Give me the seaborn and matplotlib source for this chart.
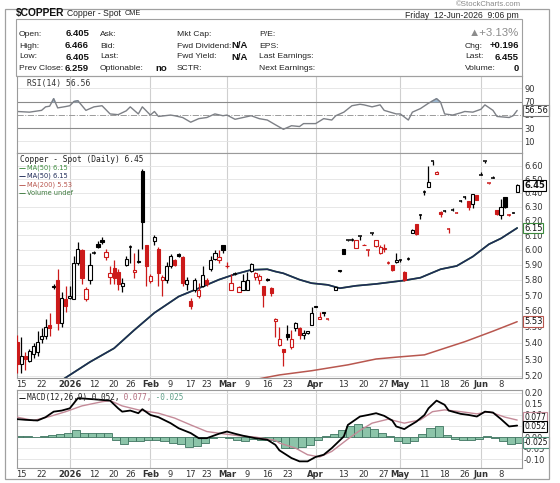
import numpy as np
import pandas as pd
import seaborn as sns
import matplotlib.pyplot as plt
from matplotlib.patches import Rectangle
from matplotlib.ticker import FixedLocator, NullLocator, FuncFormatter

sns.set_theme(style="white")
plt.rcParams["font.family"] = ["DejaVu Sans"]

W, H = 560, 483
RED = "#cc1a1a"
NAVY = "#1f2b57"
MA_GREEN = "#3d8b3d"
MA200_RED = "#b8574f"
GRID = "#e3e3e3"
MONTHLINE = "#cfcfcf"
HEAD_FONT = ["Liberation Sans", "DejaVu Sans"]

# ---- data -------------------------------------------------------------
holidays = ["2025-12-25", "2026-01-01", "2026-01-19", "2026-02-16",
            "2026-04-03", "2026-05-25"]
dates = pd.bdate_range("2025-12-12", "2026-06-12", freq="C", holidays=holidays)
nan = np.nan

opens = [5.405, 5.27, 5.322, 5.29, 5.332, 5.342, 5.425, 5.444, 5.51, 5.75,
         5.80, 5.52, 5.672, 5.682, 5.672, 5.908, 5.998, 5.672, 5.80, 5.978,
         6.04, 6.07, 5.948, 5.818, 5.878, 5.848, 5.76, 5.898, 6.02, 5.853,
         5.918, 6.562, 6.03, 5.794, 6.06, 6.003, 5.80, 5.80, 5.888, 5.928,
         5.968, 5.948, 5.77, 5.662, 5.73, 5.692, 5.76, 5.80, 5.868, 5.938,
         5.928, 6.03, 5.888, 5.73, 5.838, 5.72, 5.73, 5.73, 5.858, 5.818,
         5.80, 5.76, 5.805, 5.745, 5.534, 5.388, 5.362, 5.452, 5.371, 5.49,
         5.49, 5.45, 5.462, 5.51, 5.622, 5.545, 5.594, 5.545, nan, 5.735,
         5.858, 6.003, 6.067, 6.07, 6.01, 6.096, 6.03, 5.998, 6.112, 6.027,
         5.978, 6.008, 5.913, 5.898, 5.918, 5.933, 5.848, 5.938, 6.116, 6.178,
         6.243, 6.408, 6.445, 6.631, 6.542, 6.266, 6.27, 6.145, 6.28, 6.259,
         6.34, 6.367, 6.34, 6.318, 6.385, 6.532, 6.638, 6.47, 6.508, 6.28,
         6.243, 6.367, 6.24, 6.259, 6.405]
highs = [5.445, 5.435, 5.342, 5.362, 5.397, 5.472, 5.49, 5.546, 5.585, 5.77,
         5.868, 5.72, 5.76, 5.76, 5.958, 6.05, 6.008, 5.75, 5.978, 5.99,
         6.06, 6.09, 6.008, 5.888, 5.928, 5.868, 5.808, 5.958, 6.03, 5.978,
         6.008, 6.578, 6.03, 5.838, 6.10, 6.02, 5.828, 5.918, 5.968, 5.938,
         5.978, 5.958, 5.818, 5.682, 5.808, 5.78, 5.888, 5.808, 5.958, 5.998,
         5.998, 6.03, 5.918, 5.838, 5.848, 5.76, 5.838, 5.848, 5.908, 5.853,
         5.838, 5.76, 5.81, 5.75, 5.554, 5.50, 5.362, 5.51, 5.48, 5.53,
         5.50, 5.48, 5.472, 5.622, 5.632, 5.594, 5.594, 5.55, nan, 5.75,
         5.863, 6.003, 6.07, 6.08, 6.067, 6.097, 6.04, 5.998, 6.117, 6.07,
         6.03, 6.04, 5.923, 5.898, 5.978, 5.938, 5.858, 5.948, 6.14, 6.178,
         6.25, 6.418, 6.598, 6.638, 6.557, 6.27, 6.28, 6.15, 6.29, 6.262,
         6.345, 6.378, 6.343, 6.394, 6.388, 6.552, 6.638, 6.474, 6.526, 6.28,
         6.357, 6.367, 6.245, 6.262, 6.466]
lows = [5.215, 5.215, 5.235, 5.28, 5.305, 5.322, 5.396, 5.425, 5.444, 5.74,
        5.48, 5.50, 5.594, 5.672, 5.672, 5.898, 5.77, 5.662, 5.77, 5.968,
        6.01, 6.04, 5.928, 5.77, 5.77, 5.73, 5.72, 5.888, 5.908, 5.808,
        5.908, 6.008, 5.76, 5.78, 6.03, 5.76, 5.692, 5.78, 5.878, 5.888,
        5.948, 5.76, 5.73, 5.613, 5.72, 5.682, 5.75, 5.76, 5.858, 5.928,
        5.908, 5.978, 5.878, 5.73, 5.828, 5.72, 5.73, 5.73, 5.848, 5.80,
        5.77, 5.623, 5.79, 5.692, 5.435, 5.38, 5.26, 5.416, 5.362, 5.472,
        5.425, 5.425, 5.453, 5.51, 5.622, 5.545, 5.565, 5.54, nan, 5.73,
        5.853, 5.968, 6.06, 6.06, 6.01, 6.07, 6.03, 5.958, 6.10, 6.02,
        5.973, 5.988, 5.903, 5.858, 5.908, 5.918, 5.79, 5.928, 6.115, 6.10,
        6.215, 6.388, 6.443, 6.606, 6.542, 6.23, 6.26, 6.112, 6.27, 6.255,
        6.335, 6.353, 6.28, 6.292, 6.348, 6.532, 6.617, 6.466, 6.508, 6.24,
        6.21, 6.292, 6.235, 6.255, 6.405]
closes = [5.27, 5.322, 5.298, 5.352, 5.38, 5.405, 5.444, 5.50, 5.49, 5.76,
          5.52, 5.682, 5.632, 5.692, 5.908, 6.008, 5.808, 5.74, 5.898, 5.98,
          6.02, 6.05, 5.988, 5.843, 5.808, 5.77, 5.78, 5.938, 6.02, 5.863,
          5.923, 6.195, 5.888, 5.823, 6.085, 5.843, 5.818, 5.888, 5.958, 5.898,
          5.958, 5.78, 5.80, 5.632, 5.80, 5.73, 5.828, 5.77, 5.928, 5.978,
          5.948, 5.998, 5.893, 5.78, 5.838, 5.755, 5.79, 5.795, 5.903, 5.843,
          5.823, 5.702, 5.795, 5.716, 5.549, 5.425, 5.344, 5.435, 5.42, 5.525,
          5.45, 5.462, 5.472, 5.585, 5.627, 5.56, 5.585, 5.545, nan, 5.75,
          5.863, 5.968, 6.067, 6.07, 6.065, 6.097, 6.035, 5.998, 6.112, 6.07,
          6.02, 6.013, 5.913, 5.865, 5.928, 5.933, 5.795, 5.938, 6.138, 6.11,
          6.243, 6.408, 6.482, 6.633, 6.552, 6.25, 6.27, 6.145, 6.28, 6.259,
          6.34, 6.368, 6.30, 6.39, 6.351, 6.532, 6.638, 6.47, 6.508, 6.25,
          6.296, 6.30, 6.24, 6.259, 6.455]

# moving averages (trading-day number, value)
ma50_day = [7, 11, 18, 24, 29, 34, 40, 45, 50, 54, 58, 62, 64, 66, 70, 73,
            77, 80, 84, 89, 96, 100, 105, 109, 113, 117, 120, 124]
ma50_val = [5.10, 5.175, 5.283, 5.366, 5.478, 5.586, 5.69, 5.744, 5.80, 5.836,
            5.865, 5.869, 5.854, 5.842, 5.80, 5.777, 5.766, 5.744, 5.76, 5.772,
            5.795, 5.813, 5.869, 5.891, 5.954, 6.038, 6.078, 6.15]
ma200_day = [56, 61, 65, 73, 82, 89, 94, 101, 106, 111, 118, 124]
ma200_val = [5.165, 5.188, 5.206, 5.231, 5.266, 5.301, 5.312, 5.326, 5.366,
             5.406, 5.471, 5.53]

rsi_day = [0, 3, 6, 7, 8, 9, 10, 12, 13, 14, 15, 17, 19, 21, 23, 25, 27, 28,
           30, 31, 33, 34, 35, 38, 39, 41, 43, 45, 47, 49, 51, 52, 54, 56, 58,
           60, 62, 64, 66, 68, 70, 71, 74, 76, 78, 79, 81, 83, 85, 86, 88, 90,
           91, 94, 95, 97, 98, 100, 102, 104, 105, 106, 108, 110, 111, 113,
           115, 116, 118, 119, 122, 123, 124]
rsi_val = [55, 54, 56.7, 62, 63, 74.4, 60.4, 62.5, 63.7, 70, 71.3, 56.7, 62,
           63.7, 51.3, 50.2, 56, 62, 51.3, 62, 49.6, 55, 47.5, 49.6, 48.6,
           45.9, 38.8, 44.2, 45.9, 51.3, 48.6, 49.6, 43.2, 45.9, 48.6, 44.2,
           42.1, 35, 28.1, 33.5, 32.3, 36.7, 36.7, 44.2, 42.1, 48.6, 54, 63.7,
           65.9, 65, 62, 65, 56.7, 51.3, 51.3, 42.1, 54, 59.4, 67.5, 74.4, 69,
           51.3, 49.6, 53, 55, 54, 58.3, 65, 56.7, 47.5, 45.9, 48.6, 56.56]

macd_day = [0, 2, 5, 7, 9, 11, 13, 14, 15, 19, 23, 25, 26, 28, 30, 31, 33, 35,
            38, 40, 43, 45, 47, 50, 52, 54, 56, 59, 62, 64, 65, 68, 70, 72, 74,
            76, 78, 81, 82, 85, 87, 89, 91, 93, 94, 96, 97, 99, 101, 102, 104,
            106, 107, 110, 112, 114, 116, 118, 120, 122, 124]
macd_val = [0.081, 0.078, 0.075, 0.09, 0.115, 0.12, 0.13, 0.153, 0.176, 0.171,
            0.165, 0.13, 0.115, 0.12, 0.108, 0.126, 0.10, 0.09, 0.063, 0.04,
            0.018, -0.005, -0.005, 0.015, 0.025, 0.015, 0.006, -0.005, -0.012,
            -0.035, -0.06, -0.095, -0.11, -0.11, -0.09, -0.08, -0.05, 0.003,
            0.055, 0.093, 0.10, 0.108, 0.096, 0.075, 0.048, 0.036, 0.048, 0.07,
            0.10, 0.13, 0.165, 0.146, 0.12, 0.105, 0.10, 0.093, 0.115, 0.111,
            0.081, 0.048, 0.052]
signal_day = [0, 4, 8, 12, 16, 21, 23, 26, 30, 35, 39, 43, 47, 51, 55, 59, 64,
              65, 69, 72, 75, 78, 82, 85, 88, 92, 96, 100, 103, 106, 110, 114,
              117, 121, 124]
signal_val = [0.09, 0.075, 0.093, 0.115, 0.141, 0.16, 0.165, 0.141, 0.123,
              0.108, 0.086, 0.055, 0.025, 0.015, 0.006, 0.0, -0.015, -0.027,
              -0.05, -0.08, -0.09, -0.065, -0.009, 0.03, 0.063, 0.081, 0.063,
              0.078, 0.115, 0.123, 0.115, 0.105, 0.115, 0.09, 0.077]
hist_day = list(range(0, 125, 2))
hist_val = [0.003, 0.003, 0.002, 0.005, 0.01, 0.015, 0.018, 0.03, 0.02, 0.02,
            0.02, 0.018, -0.012, -0.03, -0.02, -0.02, -0.012, -0.012, -0.02,
            -0.025, -0.03, -0.045, -0.04, -0.025, -0.005, 0.0, -0.005, -0.012,
            -0.018, -0.008, -0.015, -0.015, -0.02, -0.05, -0.05, -0.045,
            -0.035, -0.015, 0.005, 0.015, 0.03, 0.05, 0.06, 0.045, 0.035, 0.02,
            0.005, -0.018, -0.028, -0.02, 0.015, 0.04, 0.05, 0.01, -0.01,
            -0.012, -0.012, -0.01, 0.003, -0.002, -0.018, -0.03, -0.025]

date_tick_day = [1, 6, 13, 19, 24, 28, 33, 38, 43, 47, 52, 57, 62, 67, 74, 81,
                 86, 91, 95, 101, 106, 111, 115, 120]
date_tick_lbl = ["15", "22", "2026", "12", "20", "26", "Feb", "9", "17", "23",
                 "Mar", "9", "16", "23", "Apr", "13", "20", "27", "May", "11",
                 "18", "26", "Jun", "8"]
month_day = [13, 33, 52, 74, 95, 115]
price_ticks = [5.2, 5.3, 5.4, 5.5, 5.6, 5.7, 5.8, 5.9, 6.0, 6.1, 6.2, 6.3, 6.4,
               6.5, 6.6]
rsi_ticks = [10, 30, 50, 70, 90]
macd_ticks = [-0.10, -0.05, 0.0, 0.05, 0.10, 0.15, 0.20]

col_labels = [["Open:", "High:", "Low:", "Prev Close:"],
              ["Ask:", "Bid:", "Last:", "Optionable:"],
              ["Mkt Cap:", "Fwd Dividend:", "Fwd Yield:", "SCTR:"],
              ["P/E:", "EPS:", "Last Earnings:", "Next Earnings:"]]
col_values = [["6.405", "6.466", "6.405", "6.259"],
              ["", "", "", "no"],
              ["", "N/A", "N/A", ""]]
right_labels = ["Chg:", "Last:", "Volume:"]
right_values = ["+0.196", "6.455", "0"]

df = pd.DataFrame({"date": dates, "open": opens, "high": highs,
                   "low": lows, "close": closes})
df["day"] = np.arange(len(df))
prev = df["close"].ffill().shift(1).fillna(df["open"])
df["color"] = np.where(df["close"] >= prev, "black", RED)
df["filled"] = df["close"] < df["open"]

# ---- layout -----------------------------------------------------------
fig = plt.figure(figsize=(W / 100, H / 100), dpi=100)
fig.patch.set_facecolor("white")


def box(top, bottom):
    return [17 / W, 1 - bottom / H, 505 / W, (bottom - top) / H]


def ftext(px, py, s, **kw):
    kw.setdefault("va", "center")
    kw.setdefault("family", HEAD_FONT)
    fig.text(px / W, 1 - py / H, s, **kw)


ax_rsi = fig.add_axes(box(76, 153))
ax_px = fig.add_axes(box(153, 378))
ax_macd = fig.add_axes(box(390, 468))

for ax in (ax_rsi, ax_px, ax_macd):
    ax.set_xlim(-0.1, 125.2)
    ax.set_xticks(date_tick_day)
    ax.set_xticklabels(date_tick_lbl)
    ax.yaxis.tick_right()
    ax.tick_params(axis="both", length=0, labelsize=6, colors="#333333",
                   pad=1.5)
    for sp in ax.spines.values():
        sp.set_color("#9a9a9a")
        sp.set_linewidth(0.8)
    for d in month_day:
        ax.axvline(d, color=MONTHLINE, lw=0.8, zorder=0)
    for lbl in ax.get_xticklabels():
        if not lbl.get_text().isdigit() or lbl.get_text() == "2026":
            lbl.set_fontweight("bold")
ax_rsi.tick_params(labelbottom=False)


def value_box(ax, y, s, ec, bold=False, size=6):
    ax.text(1.004, y, s, transform=ax.get_yaxis_transform(), ha="left",
            va="center", fontsize=size, fontweight="bold" if bold else "normal",
            color="#111111", zorder=6, clip_on=False,
            bbox=dict(boxstyle="square,pad=0.1", fc="white", ec=ec, lw=0.8))


# ---- price panel ------------------------------------------------------
ax_px.set_yscale("log")
ax_px.set_ylim(5.188, 6.696)
ax_px.yaxis.set_major_locator(FixedLocator(price_ticks))
ax_px.yaxis.set_minor_locator(NullLocator())
ax_px.yaxis.set_major_formatter(FuncFormatter(lambda v, _: f"{v:.2f}"))
ax_px.grid(axis="y", color=GRID, lw=0.6)
ax_px.grid(axis="x", visible=False)

sns.lineplot(x=ma50_day, y=ma50_val, ax=ax_px, color=MA_GREEN, lw=1.2,
             legend=False, zorder=2)
sns.lineplot(x=ma50_day, y=ma50_val, ax=ax_px, color=NAVY, lw=1.2,
             legend=False, zorder=2)
sns.lineplot(x=ma200_day, y=ma200_val, ax=ax_px, color=MA200_RED, lw=1.1,
             legend=False, zorder=2)

bw = 0.8
for row in df.dropna(subset=["close"]).itertuples():
    ax_px.vlines(row.day, row.low, row.high, color=row.color, lw=0.9, zorder=3)
    if abs(row.close - row.open) < 0.004:
        ax_px.hlines(row.close, row.day - bw / 2, row.day + bw / 2,
                     color=row.color, lw=1.1, zorder=4)
    else:
        lo = min(row.open, row.close)
        ax_px.add_patch(Rectangle((row.day - bw / 2, lo), bw,
                                  abs(row.close - row.open),
                                  facecolor=row.color if row.filled else "white",
                                  edgecolor=row.color, lw=0.8, zorder=4))

value_box(ax_px, 6.455, "6.45", "black", bold=True)
value_box(ax_px, 6.15, "6.15", MA_GREEN)
value_box(ax_px, 5.53, "5.53", MA200_RED)

ax_px.text(0.006, 0.972, "Copper - Spot (Daily) 6.45", transform=ax_px.transAxes,
           fontsize=5.7, family="DejaVu Sans Mono", color="#222222",
           va="center", ha="left")
legend_rows = [("MA(50) 6.15", MA_GREEN), ("MA(50) 6.15", NAVY),
               ("MA(200) 5.53", MA200_RED), ("Volume undef", "#3d7a3d")]
for k, (txt, col) in enumerate(legend_rows):
    yy = 0.935 - k * 0.038
    ax_px.text(0.004, yy, "\u2014", transform=ax_px.transAxes, fontsize=5,
               color=col, va="center", ha="left", fontweight="bold")
    ax_px.text(0.02, yy, txt, transform=ax_px.transAxes, fontsize=4.8,
               color=col, va="center", ha="left")

# ---- RSI panel --------------------------------------------------------
ax_rsi.set_ylim(-7.7, 108.6)
ax_rsi.yaxis.set_major_locator(FixedLocator(rsi_ticks))
ax_rsi.yaxis.set_major_formatter(FuncFormatter(lambda v, _: f"{v:.0f}"))
for lvl in (10, 90):
    ax_rsi.axhline(lvl, color=GRID, lw=0.6, zorder=0)
for lvl in (30, 70):
    ax_rsi.axhline(lvl, color="#8a8a8a", lw=0.8, zorder=1)
ax_rsi.axhline(50, color="#9a9a9a", lw=0.7, ls="-.", zorder=1)
rsi_arr = np.array(rsi_val)
ax_rsi.fill_between(rsi_day, rsi_arr, 70, where=rsi_arr > 70,
                    interpolate=True, color="#9fbad3", zorder=1)
sns.lineplot(x=rsi_day, y=rsi_val, ax=ax_rsi, color="#7d8086", lw=1.0,
             legend=False, zorder=2)
value_box(ax_rsi, 56.56, "56.56", "#777777")
ax_rsi.text(0.02, 0.9, "RSI(14) 56.56", transform=ax_rsi.transAxes,
            fontsize=5.8, family="DejaVu Sans Mono", color="#333333",
            va="center", ha="left")

# ---- MACD panel -------------------------------------------------------
ax_macd.set_ylim(-0.14, 0.213)
ax_macd.yaxis.set_major_locator(FixedLocator(macd_ticks))
ax_macd.yaxis.set_major_formatter(FuncFormatter(lambda v, _: f"{v:.2f}"))
ax_macd.grid(axis="y", color=GRID, lw=0.6)
ax_macd.grid(axis="x", visible=False)
ax_macd.bar(np.array(hist_day) + 0.5, hist_val, width=2.0, color="#8cc4a9",
            edgecolor="#3f7561", lw=0.6, zorder=2)
sns.lineplot(x=signal_day, y=signal_val, ax=ax_macd, color="#c48a98", lw=1.0,
             legend=False, zorder=3)
sns.lineplot(x=macd_day, y=macd_val, ax=ax_macd, color="black", lw=1.3,
             legend=False, zorder=4)
value_box(ax_macd, 0.090, "0.077", "#c48a98", size=5.5)
value_box(ax_macd, 0.048, "0.052", "black", size=5.5)
value_box(ax_macd, -0.025, "-0.025", "#4f8f7a", size=5.5)

cw = 5.5 * 0.602 / 72 * 100 / 505  # mono char width in axes fraction
mx = 0.02
for txt, col in [("MACD(12,26,9) 0.052,", "#222222"), (" 0.077,", "#b06a7c"),
                 (" -0.025", "#5f9f88")]:
    ax_macd.text(mx, 0.9, txt, transform=ax_macd.transAxes, fontsize=5.5,
                 family="DejaVu Sans Mono", color=col, va="center",
                 ha="left", zorder=5)
    mx += len(txt) * cw
ax_macd.text(0.003, 0.9, "\u2014", transform=ax_macd.transAxes, fontsize=5,
             color="black", va="center", ha="left", fontweight="bold")

# ---- header -----------------------------------------------------------
fig.add_artist(Rectangle((5 / W, 1 - 479 / H), 544 / W, 470 / H,
                         transform=fig.transFigure, fill=False,
                         ec="#a0a0a0", lw=0.9))
fig.add_artist(Rectangle((16 / W, 1 - 76 / H), 506 / W, 57 / H,
                         transform=fig.transFigure, fill=False,
                         ec="#a0a0a0", lw=0.8))
ftext(16, 13, "$COPPER", fontsize=7.4, fontweight="bold", color="#111111")
ftext(67, 13, "Copper - Spot", fontsize=6.2, color="#222222")
ftext(125, 13.5, "CME", fontsize=5.2, color="#222222")
ftext(521, 4, "\u00a9StockCharts.com", fontsize=5.6, color="#8a8a8a",
      ha="right")
ftext(519, 15, "Friday  12-Jun-2026  9:06 pm", fontsize=6.2, color="#222222",
      ha="right")
ftext(519, 33, "\u25b2+3.13%", fontsize=8.2, color="#8c8c8c", ha="right")

row_y = [34, 46, 57, 69]
label_x = [19, 100, 177, 259]
value_x = [89, 167, 248]
for c, labels in enumerate(col_labels):
    for r, txt in enumerate(labels):
        ftext(label_x[c], row_y[r], txt, fontsize=6.1, color="#222222")
for c, vals in enumerate(col_values):
    for r, txt in enumerate(vals):
        if txt:
            ftext(value_x[c], row_y[r], txt, fontsize=6.8, fontweight="bold",
                  color="#111111", ha="right")
for r, txt in enumerate(right_labels):
    ftext(465, row_y[r + 1], txt, fontsize=6.1, color="#222222")
    ftext(519, row_y[r + 1], right_values[r], fontsize=6.8, fontweight="bold",
          color="#111111", ha="right")

fig.savefig("out.png", dpi=100)
